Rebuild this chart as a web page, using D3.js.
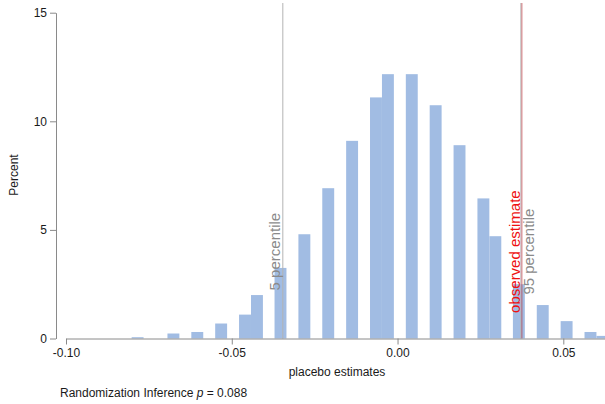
<!DOCTYPE html>
<html>
<head>
<meta charset="utf-8">
<script src="https://cdn.jsdelivr.net/npm/d3@7"></script>
<style>
  html, body { margin: 0; padding: 0; background: #fff; }
  svg { display: block; font-family: "Liberation Sans", Arial, sans-serif; }
</style>
</head>
<body>
<svg id="chart" width="605" height="404"></svg>
<script>
// Histogram of placebo estimates (percent per bin)
const binWidth = 0.003595;
const binLeft = [-0.0802, -0.0694, -0.0622, -0.0550, -0.0478, -0.0442, -0.0371, -0.0299,
                 -0.0227, -0.0155, -0.0083, -0.0047, 0.0025, 0.0097, 0.0169, 0.0241,
                 0.0277, 0.0348, 0.0420, 0.0492, 0.0564, 0.0600];
const percent = [0.06, 0.23, 0.30, 0.69, 1.10, 2.00, 3.25, 4.80,
                 6.92, 9.10, 11.10, 12.17, 12.17, 10.74, 8.90, 6.45,
                 4.71, 2.50, 1.54, 0.80, 0.30, 0.12];

// Reference lines
const p5 = -0.0346;
const p95 = 0.0372;
const observed = 0.0375;

const xTicks = [-0.10, -0.05, 0.00, 0.05];
const yTicks = [0, 5, 10, 15];
const pValue = "0.088";

const svg = d3.select("#chart");

const pxPerUnit = (563.3 - 66) / 0.15;
const xMin = -0.10, xMax = 0.063;
const x = d3.scaleLinear().domain([xMin, xMax]).range([66, 66 + (xMax - xMin) * pxPerUnit]);
const y = d3.scaleLinear().domain([0, 15]).range([338.5, 12.7]);
const plotTop = 3;

// Bars
svg.append("g")
  .selectAll("rect")
  .data(binLeft.map((b, i) => ({ x0: b, v: percent[i] })))
  .join("rect")
  .attr("x", d => x(d.x0))
  .attr("width", d => x(d.x0 + binWidth) - x(d.x0))
  .attr("y", d => y(d.v))
  .attr("height", d => y(0) - y(d.v))
  .attr("fill", "#a1bce3");

// Percentile lines
svg.append("g")
  .selectAll("line")
  .data([p5, p95])
  .join("line")
  .attr("x1", d => x(d)).attr("x2", d => x(d))
  .attr("y1", plotTop).attr("y2", y(0))
  .attr("stroke", "#b4b4b4")
  .attr("stroke-width", 1);

// Observed estimate line
svg.append("line")
  .attr("x1", x(observed)).attr("x2", x(observed))
  .attr("y1", plotTop).attr("y2", y(0))
  .attr("stroke", "rgb(185,40,50)")
  .attr("stroke-opacity", 0.42)
  .attr("stroke-width", 1.5);

// Rotated labels for the lines
const midY = y(4.0);
function vlabel(text, px, color) {
  svg.append("text")
    .attr("transform", `translate(${px},${midY}) rotate(-90)`)
    .attr("text-anchor", "middle")
    .attr("font-size", 15)
    .attr("fill", color)
    .text(text);
}
vlabel("5 percentile", x(p5) - 2.8, "#8a8a8a");
vlabel("observed estimate", x(observed) - 1.8, "#ee1111");
vlabel("95 percentile", x(p95) + 13.3, "#8a8a8a");

// Axes
const axisColor = "#8a8a8a";
const yAxis = svg.append("g")
  .attr("transform", "translate(56,0)")
  .call(d3.axisLeft(y).tickValues(yTicks).tickSize(6).tickSizeOuter(0).tickPadding(3));
yAxis.selectAll("path, line").attr("stroke", axisColor);
yAxis.selectAll("text").attr("font-size", 12).attr("fill", "#1a1a1a")
  .attr("font-family", "Liberation Sans, Arial, sans-serif");

const xAxis = svg.append("g")
  .attr("transform", `translate(0,${y(0)})`)
  .call(d3.axisBottom(x).tickValues(xTicks).tickFormat(d3.format(".2f"))
    .tickSize(6).tickSizeOuter(0).tickPadding(4));
xAxis.selectAll("path, line").attr("stroke", axisColor);
xAxis.selectAll("text").attr("font-size", 12).attr("fill", "#1a1a1a")
  .attr("font-family", "Liberation Sans, Arial, sans-serif")
  .text(d => d3.format(".2f")(d).replace("−", "-"));

// Axis titles
svg.append("text")
  .attr("transform", "translate(18,175) rotate(-90)")
  .attr("text-anchor", "middle")
  .attr("font-size", 12)
  .attr("fill", "#1a1a1a")
  .text("Percent");

svg.append("text")
  .attr("x", 337).attr("y", 376)
  .attr("text-anchor", "middle")
  .attr("font-size", 12)
  .attr("fill", "#1a1a1a")
  .text("placebo estimates");

// Note
const note = svg.append("text")
  .attr("x", 60).attr("y", 397)
  .attr("font-size", 12)
  .attr("fill", "#1a1a1a");
note.append("tspan").text("Randomization Inference ");
note.append("tspan").attr("font-style", "italic").text("p");
note.append("tspan").text(" = " + pValue);
</script>
</body>
</html>
